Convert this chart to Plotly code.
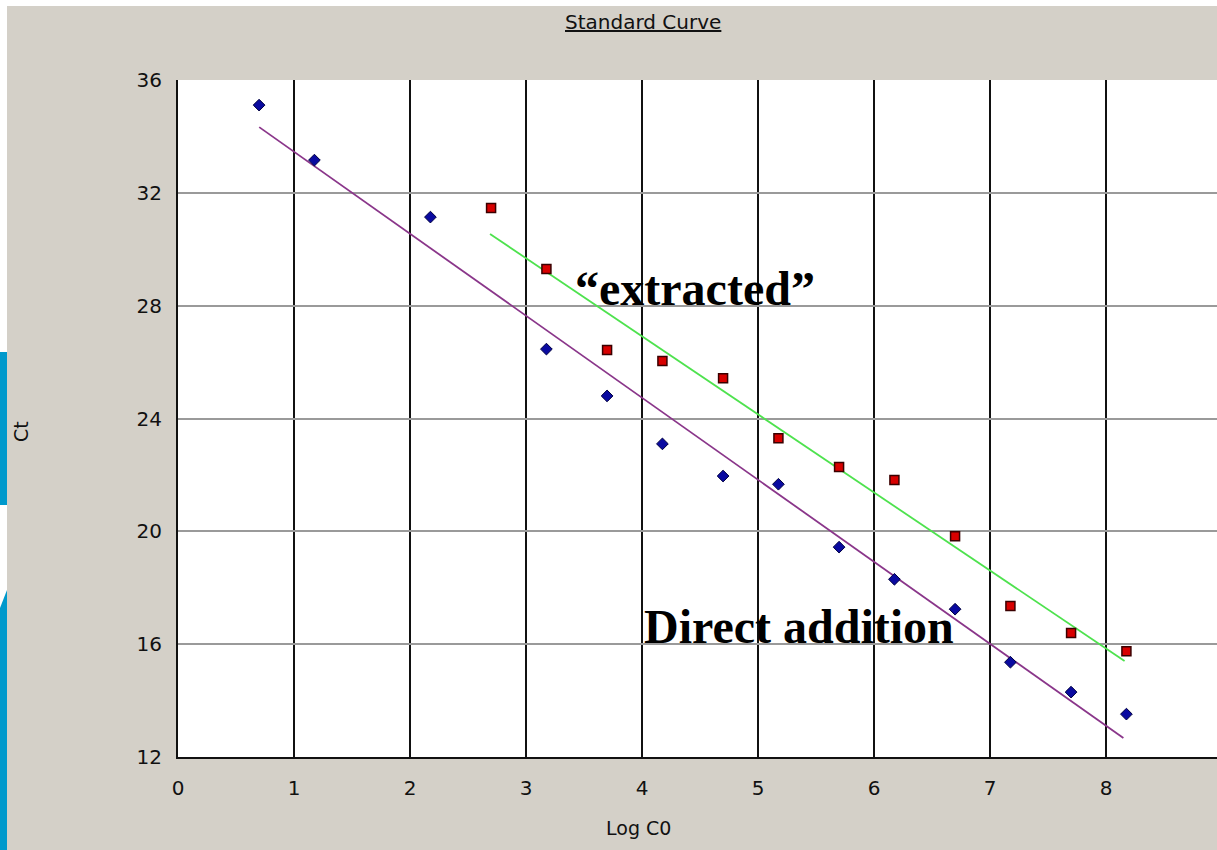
import plotly.graph_objects as go

# ---- data ----
direct_x = [0.699, 1.176, 2.176, 3.176, 3.699, 4.176, 4.699, 5.176, 5.699, 6.176, 6.699, 7.176, 7.699, 8.176]
direct_ct = [35.11, 33.16, 31.14, 26.46, 24.8, 23.1, 21.96, 21.67, 19.44, 18.3, 17.24, 15.36, 14.3, 13.52]

extracted_x = [2.699, 3.176, 3.699, 4.176, 4.699, 5.176, 5.699, 6.176, 6.699, 7.176, 7.699, 8.176]
extracted_ct = [31.46, 29.3, 26.43, 26.04, 25.43, 23.3, 22.28, 21.82, 19.83, 17.35, 16.4, 15.75]

direct_fit_x = [0.7, 8.15]
direct_fit_ct = [34.33, 12.67]
extracted_fit_x = [2.69, 8.16]
extracted_fit_ct = [30.54, 15.40]

x_ticks = [0, 1, 2, 3, 4, 5, 6, 7, 8]
y_ticks = [12, 16, 20, 24, 28, 32, 36]

# ---- layout geometry (pixels) ----
W, H = 1217, 850
L, R, T, B = 178, 0, 80, 93
PW, PH = W - L - R, H - T - B


def xp(px):
    return (px - L) / PW


def yp(py):
    return (H - B - py) / PH


GRAY = "#d4d0c8"
FONT = "DejaVu Sans"

fig = go.Figure()
fig.add_trace(go.Scatter(x=direct_fit_x, y=direct_fit_ct, mode="lines",
                         line=dict(color="#8a368a", width=1.8), showlegend=False))
fig.add_trace(go.Scatter(x=extracted_fit_x, y=extracted_fit_ct, mode="lines",
                         line=dict(color="#4ee24e", width=1.8), showlegend=False))
fig.add_trace(go.Scatter(x=direct_x, y=direct_ct, mode="markers",
                         marker=dict(symbol="diamond", size=9, color="#0a0aa0",
                                     line=dict(color="#000040", width=1)),
                         showlegend=False))
fig.add_trace(go.Scatter(x=extracted_x, y=extracted_ct, mode="markers",
                         marker=dict(symbol="square", size=9, color="#d80000",
                                     line=dict(color="#3a0000", width=1.5)),
                         showlegend=False))

shapes = [
    # white strips around the gray window
    dict(type="rect", xref="paper", yref="paper", x0=xp(0), x1=xp(7), y0=yp(H), y1=yp(0),
         fillcolor="white", line=dict(width=0), layer="below"),
    dict(type="rect", xref="paper", yref="paper", x0=xp(0), x1=xp(W), y0=yp(6), y1=yp(0),
         fillcolor="white", line=dict(width=0), layer="below"),
    # blue slide decoration
    dict(type="rect", xref="paper", yref="paper", x0=xp(0), x1=xp(7), y0=yp(505), y1=yp(352),
         fillcolor="#0099cc", line=dict(width=0), layer="below"),
    dict(type="path", xref="paper", yref="paper",
         path=f"M {xp(0)},{yp(608)} L {xp(7)},{yp(590)} L {xp(7)},{yp(H)} L {xp(0)},{yp(H)} Z",
         fillcolor="#0099cc", line=dict(width=0), layer="below"),
]

annotations = [
    dict(text="<u>Standard Curve</u>", xref="paper", yref="paper", x=xp(643), y=yp(22),
         showarrow=False, font=dict(family=FONT, size=20, color="#111"),
         xanchor="center", yanchor="middle"),
    dict(text="Log C0", xref="paper", yref="paper", x=xp(638), y=yp(828),
         showarrow=False, font=dict(family=FONT, size=19, color="#111"),
         xanchor="center", yanchor="middle"),
    dict(text="Ct", xref="paper", yref="paper", x=xp(21), y=yp(432), textangle=-90,
         showarrow=False, font=dict(family=FONT, size=19, color="#111"),
         xanchor="center", yanchor="middle"),
    dict(text="\u201cextracted\u201d", x=4.46, y=28.62, showarrow=False,
         font=dict(family="Liberation Serif", size=48, color="black", weight="bold"),
         xanchor="center", yanchor="middle"),
    dict(text="Direct addition", x=5.35, y=16.64, showarrow=False,
         font=dict(family="Liberation Serif", size=48, color="black", weight="bold"),
         xanchor="center", yanchor="middle"),
]

fig.update_layout(
    width=W, height=H,
    margin=dict(l=L, r=R, t=T, b=B, pad=0),
    paper_bgcolor=GRAY, plot_bgcolor="white",
    shapes=shapes, annotations=annotations,
    xaxis=dict(range=[0, PW / 116.0], tickvals=x_ticks, ticktext=[str(v) for v in x_ticks],
               showgrid=True, gridcolor="#111111", gridwidth=2,
               showline=True, linecolor="#111111", linewidth=2,
               zeroline=False, ticks="", ticklabelstandoff=12,
               tickfont=dict(family=FONT, size=20, color="#111")),
    yaxis=dict(range=[12, 36], tickvals=y_ticks, ticktext=[str(v) for v in y_ticks],
               showgrid=True, gridcolor="#9a9a9a", gridwidth=2,
               showline=True, linecolor="#111111", linewidth=2,
               zeroline=False, ticks="", ticklabelstandoff=10,
               tickfont=dict(family=FONT, size=20, color="#111")),
)

fig.write_html("out.html", config={"displayModeBar": False},
               post_script="document.body.style.margin='0px';document.body.style.overflow='hidden';")
